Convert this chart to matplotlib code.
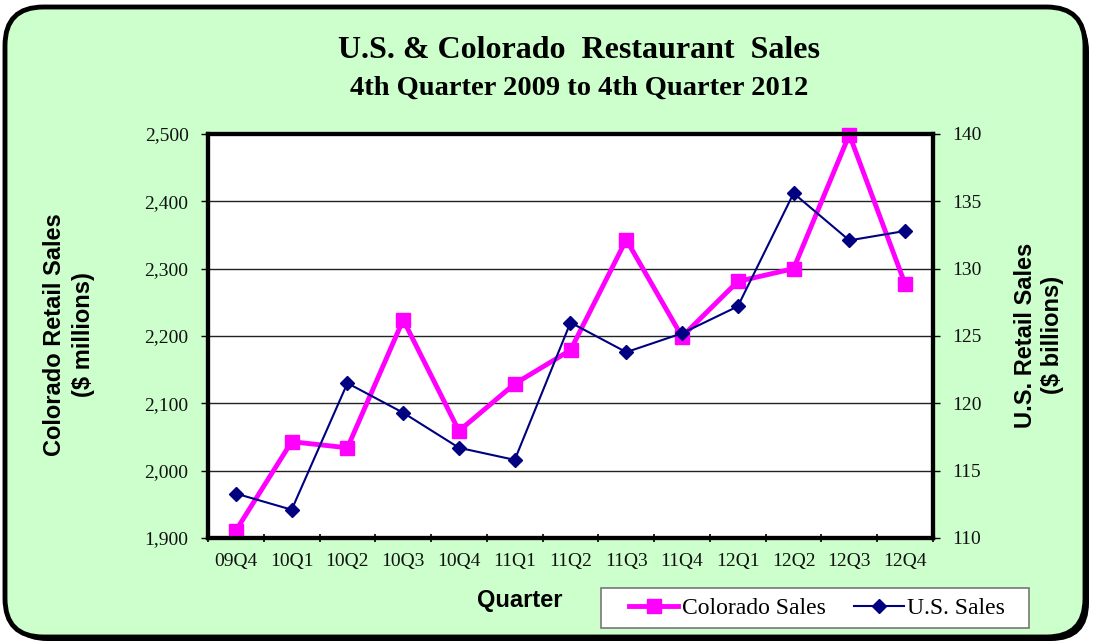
import matplotlib
matplotlib.use("Agg")
import matplotlib.pyplot as plt
import numpy as np
from matplotlib.patches import FancyBboxPatch, Rectangle
from matplotlib.ticker import FuncFormatter

# data
quarters = ['09Q4', '10Q1', '10Q2', '10Q3', '10Q4', '11Q1', '11Q2',
            '11Q3', '11Q4', '12Q1', '12Q2', '12Q3', '12Q4']
colorado_sales = [1911, 2043, 2034, 2224, 2059, 2129, 2179,
                  2343, 2199, 2281, 2300, 2499, 2277]   # $ millions
us_sales = [113.3, 112.1, 121.5, 119.3, 116.7, 115.8, 126.0,
            123.8, 125.2, 127.2, 135.6, 132.1, 132.8]   # $ billions
left_ticks = [1900, 2000, 2100, 2200, 2300, 2400, 2500]
right_ticks = [110, 115, 120, 125, 130, 135, 140]

BG = '#CCFFCC'
MAGENTA = '#FF00FF'
NAVY = '#000080'
SERIF = ['Liberation Serif', 'DejaVu Serif']
SANS = ['Liberation Sans', 'DejaVu Sans']

W, H = 1096, 644
fig = plt.figure(figsize=(W / 100, H / 100), dpi=100)
fig.patch.set_facecolor('white')

# rounded frame with a little shadow
shadow = FancyBboxPatch((9 / W, 3 / H), 1080 / W, 628 / H,
                        boxstyle='round,pad=0,rounding_size=0.035',
                        transform=fig.transFigure, facecolor='black',
                        edgecolor='black', linewidth=0, zorder=0,
                        mutation_aspect=W / H)
frame = FancyBboxPatch((5 / W, 7 / H), 1080 / W, 630 / H,
                       boxstyle='round,pad=0,rounding_size=0.035',
                       transform=fig.transFigure, facecolor=BG,
                       edgecolor='black', linewidth=3.5, zorder=1,
                       mutation_aspect=W / H)
# legend box (drawn separately so it can be wider than tall padding allows)
legbox = Rectangle((601 / W, 1 - 628 / H), 428 / W, 40 / H,
                   transform=fig.transFigure, facecolor='white',
                   edgecolor='#777777', linewidth=1.2, zorder=2)
fig.patches.extend([shadow, frame, legbox])

# plot area in pixel terms
x0, x1, y0, y1 = 208, 933, 134, 538
ax = fig.add_axes([x0 / W, (H - y1) / H, (x1 - x0) / W, (y1 - y0) / H])
ax.set_facecolor('white')
ax.set_zorder(3)

x = np.arange(len(quarters))
ax.plot(x, colorado_sales, color=MAGENTA, lw=3.5, marker='s', ms=10,
        label='Colorado Sales', zorder=4, clip_on=False)
ax.set_xlim(-0.5, len(quarters) - 0.5)
ax.set_ylim(1900, 2500)
ax.set_yticks(left_ticks)
ax.yaxis.set_major_formatter(FuncFormatter(lambda v, p: f'{int(v):,}'))
for t in left_ticks[1:-1]:
    ax.axhline(t, color='#222222', lw=1.0, zorder=1)

ax2 = ax.twinx()
ax2.plot(x, us_sales, color=NAVY, lw=1.5, marker='D', ms=7,
         label='U.S. Sales', zorder=5, clip_on=False)
ax2.set_ylim(110, 140)
ax2.set_yticks(right_ticks)

ax.set_xticks(x)
ax.set_xticklabels(quarters)
ax.set_xticks(np.arange(-0.5, len(quarters)), minor=True)
ax.tick_params(axis='x', which='major', length=0, pad=11)
ax.tick_params(axis='x', which='minor', length=6, width=1.2, direction='inout')
ax.tick_params(axis='y', length=5, width=1, direction='out', pad=9)
ax2.tick_params(axis='y', length=5, width=1, direction='out', pad=9)

for a in (ax, ax2):
    for s in a.spines.values():
        s.set_linewidth(3)
        s.set_color('black')
    for lab in a.get_xticklabels() + a.get_yticklabels():
        lab.set_family(SERIF)
        lab.set_fontsize(14)
        lab.set_color('#111111')

# titles and axis labels
fig.text(579 / W, 1 - 50 / H, 'U.S. & Colorado  Restaurant  Sales',
         ha='center', va='center', family=SERIF, fontweight='bold',
         fontsize=23)
fig.text(579 / W, 1 - 88 / H, '4th Quarter 2009 to 4th Quarter 2012',
         ha='center', va='center', family=SERIF, fontweight='bold',
         fontsize=20.5)
fig.text(69 / W, 1 - 335 / H, 'Colorado Retail Sales\n($ millions)',
         ha='center', va='center', rotation=90, family=SANS,
         fontweight='bold', fontsize=17, linespacing=1.3)
fig.text(1039 / W, 1 - 335 / H, 'U.S. Retail Sales\n($ billions)',
         ha='center', va='center', rotation=90, family=SANS,
         fontweight='bold', fontsize=17, linespacing=1.2)
fig.text(520 / W, 1 - 601 / H, 'Quarter', ha='center', va='center',
         family=SANS, fontweight='bold', fontsize=17)

h1, l1 = ax.get_legend_handles_labels()
h2, l2 = ax2.get_legend_handles_labels()
leg = fig.legend(h1 + h2, l1 + l2, loc='center',
                 bbox_to_anchor=(817 / W, 1 - 608 / H), ncol=2,
                 frameon=False, handlelength=2.1,
                 handletextpad=0.15, columnspacing=1.2, borderpad=0.3,
                 borderaxespad=0, prop={'family': SERIF, 'size': 17})
leg.set_zorder(4)

fig.savefig('out.png', dpi=100, facecolor=fig.get_facecolor())
